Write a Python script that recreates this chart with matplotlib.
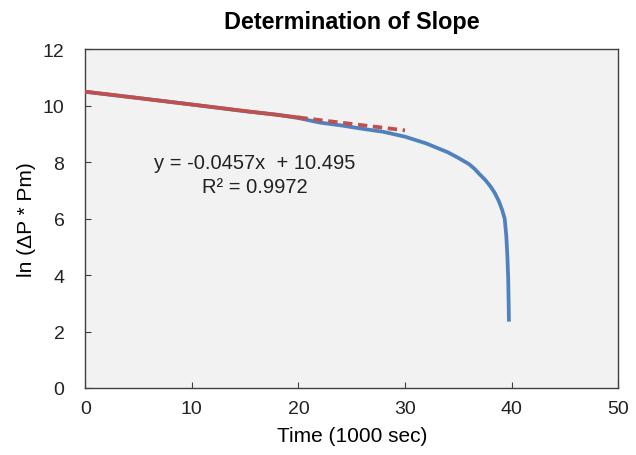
import matplotlib
matplotlib.use("Agg")
import matplotlib.pyplot as plt

# measured data (time in 1000 s, ln(dP*Pm))
time_k = [0, 5, 10, 15, 18, 20, 22, 24, 26, 28, 30, 32, 34, 35, 36, 36.5, 37, 37.5,
          38, 38.4, 38.8, 39.1, 39.35, 39.5, 39.6, 39.68, 39.72, 39.75]
ln_dp = [10.49, 10.27, 10.04, 9.80, 9.68, 9.56, 9.40, 9.30, 9.18, 9.07, 8.90,
         8.66, 8.35, 8.15, 7.93, 7.77, 7.57, 7.38, 7.15, 6.92, 6.62, 6.32, 6.0,
         5.4, 4.7, 3.9, 3.1, 2.35]

# linear trendline (fit range) and its forward forecast
trend_x = [0, 20]
trend_y = [10.495, 9.581]
forecast_x = [20, 30]
forecast_y = [9.581, 9.124]

plt.rcParams['font.family'] = ['Liberation Sans', 'DejaVu Sans']

fig = plt.figure(figsize=(6.36, 4.56), dpi=100)
ax = fig.add_axes([0.134, 0.147, 0.838, 0.743])
ax.set_facecolor('#F2F2F2')

ax.plot(time_k, ln_dp, color='#4F81BD', linewidth=2.7, solid_capstyle='butt',
        solid_joinstyle='round', zorder=2)
ax.plot(trend_x, trend_y, color='#C0504D', linewidth=2.7, zorder=3)
ax.plot(forecast_x, forecast_y, color='#C0504D', linewidth=2.7, linestyle=(0, (2.5, 1.5)), zorder=3)

ax.text(15.9, 8.0, 'y = -0.0457x  + 10.495', ha='center', va='center', fontsize=14.5, color='#222222')
ax.text(15.9, 7.15, 'R² = 0.9972', ha='center', va='center', fontsize=14.5, color='#222222')

ax.set_xlim(0, 50)
ax.set_ylim(0, 12)
ax.set_xticks(range(0, 51, 10))
ax.set_yticks(range(0, 13, 2))
ax.tick_params(direction='in', length=4, width=0.8, colors='#404040', labelcolor='#222222',
               labelsize=14)
ax.tick_params(axis='x', pad=9)
ax.tick_params(axis='y', pad=15)
for s in ax.spines.values():
    s.set_color('#404040')
    s.set_linewidth(1.0)

ax.set_title('Determination of Slope', fontsize=16.8, fontweight='bold', pad=15)
ax.set_xlabel('Time (1000 sec)', fontsize=15, labelpad=6)
ax.set_ylabel('ln (ΔP * Pm)', fontsize=15, labelpad=5)

fig.savefig('out.png', dpi=100)
